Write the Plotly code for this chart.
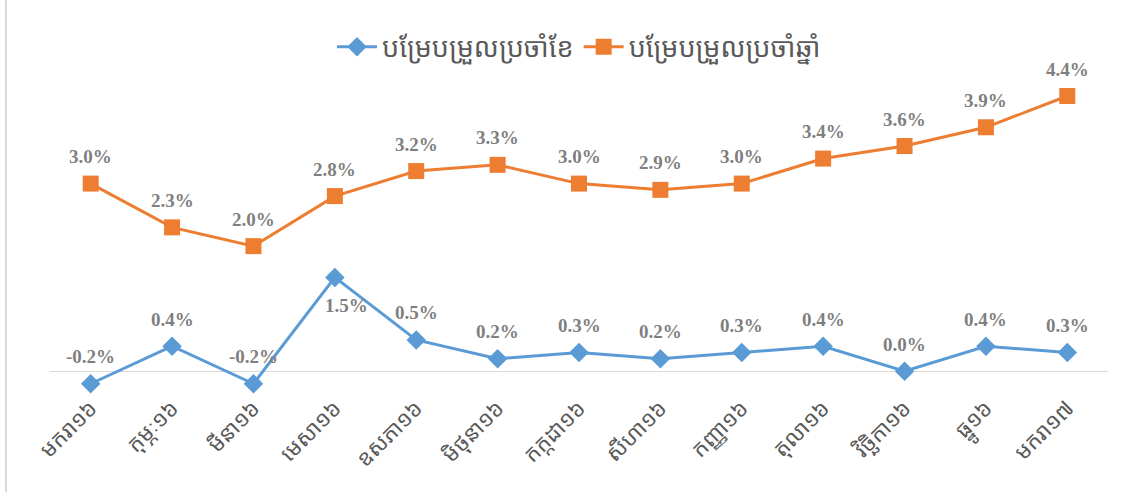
import plotly.graph_objects as go

months = ["មករា១៦", "កុម្ភៈ១៦", "មីនា១៦", "មេសា១៦", "ឧសភា១៦", "មិថុនា១៦", "កក្កដា១៦",
          "សីហា១៦", "កញ្ញា១៦", "តុលា១៦", "វិច្ឆិកា១៦", "ធ្នូ១៦", "មករា១៧"]
monthly = [-0.2, 0.4, -0.2, 1.5, 0.5, 0.2, 0.3, 0.2, 0.3, 0.4, 0.0, 0.4, 0.3]
annual = [3.0, 2.3, 2.0, 2.8, 3.2, 3.3, 3.0, 2.9, 3.0, 3.4, 3.6, 3.9, 4.4]
name_monthly = "បម្រែបម្រួលប្រចាំខែ"
name_annual = "បម្រែបម្រួលប្រចាំឆ្នាំ"

BLUE = "#5B9BD5"
ORANGE = "#ED7D31"
LABEL = "#7F7F7F"
KHMER = "Noto Sans Khmer, Khmer OS System, Noto Sans, DejaVu Sans, sans-serif"

x = list(range(len(months)))

fig = go.Figure()
fig.add_trace(go.Scatter(
    x=x, y=monthly, mode="lines+markers", name=name_monthly, cliponaxis=False,
    line=dict(color=BLUE, width=3),
    marker=dict(symbol="diamond", size=15, color=BLUE),
))
fig.add_trace(go.Scatter(
    x=x, y=annual, mode="lines+markers", name=name_annual, cliponaxis=False,
    line=dict(color=ORANGE, width=3),
    marker=dict(symbol="square", size=16, color=ORANGE),
))

lab_font = dict(family="Liberation Serif", size=19, color=LABEL, weight="bold")
annots = []
for i, v in enumerate(annual):
    annots.append(dict(x=i, y=v, text=f"{v:.1f}%", showarrow=False, yshift=27, font=lab_font))
for i, v in enumerate(monthly):
    xs, ys = 0, 27
    if i == 3:
        xs, ys = 12, -28
    annots.append(dict(x=i, y=v, text=f"{v:.1f}%", showarrow=False, yshift=ys, xshift=xs,
                       font=lab_font))

fig.update_layout(
    width=1123, height=492,
    margin=dict(l=50, r=15, t=71, b=102),
    paper_bgcolor="white", plot_bgcolor="white",
    showlegend=True,
    legend=dict(orientation="h", x=0.5, xanchor="center", y=1.075, yanchor="middle",
                font=dict(family=KHMER, size=27, color="#595959"),
                itemwidth=40, traceorder="normal"),
    xaxis=dict(range=[-0.5, 12.5], tickmode="array", tickvals=x, ticktext=months,
               tickangle=-45, showgrid=False, showline=False, zeroline=False, ticks="",
               tickfont=dict(family=KHMER, size=22, color="#595959")),
    yaxis=dict(range=[-0.3, 4.8], showgrid=False, showticklabels=False, zeroline=True,
               zerolinecolor="#D9D9D9", zerolinewidth=1, showline=False),
    annotations=annots,
    shapes=[dict(type="line", xref="paper", yref="paper", x0=-0.0416, x1=-0.0416,
                 y0=-0.33, y1=1.23, line=dict(color="#D9D9D9", width=2))],
)

fig.write_html("out.html")
